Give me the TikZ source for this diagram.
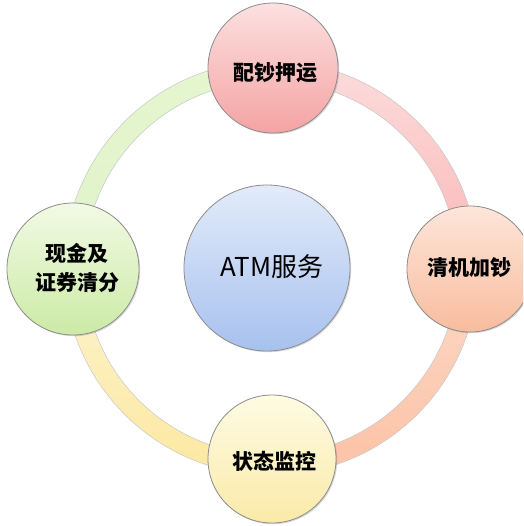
\documentclass[tikz,border=0pt]{standalone}
\usepackage{fontspec}
\setmainfont{Noto Sans CJK SC}
\usetikzlibrary{shadows,calc}
\definecolor{pkA}{HTML}{FCE0E0}\definecolor{pkB}{HTML}{F5A3A3}
\definecolor{orA}{HTML}{FDE6DA}\definecolor{orB}{HTML}{F8BC9E}
\definecolor{ywA}{HTML}{FEFBE4}\definecolor{ywB}{HTML}{FAEAA8}
\definecolor{gnA}{HTML}{F1FAE4}\definecolor{gnB}{HTML}{CCEAA6}
\definecolor{blA}{HTML}{E3EBFA}\definecolor{blB}{HTML}{A7C1EE}
\definecolor{rpA}{HTML}{FCDCDC}\definecolor{rpB}{HTML}{FBB6B6}
\definecolor{roA}{HTML}{FDD9C6}\definecolor{roB}{HTML}{FCC2A6}
\definecolor{ryA}{HTML}{FDF4D0}\definecolor{ryB}{HTML}{FCE8A0}
\definecolor{rgA}{HTML}{E6F6D0}\definecolor{rgB}{HTML}{E0F3C8}
\tikzset{
  ball/.style={circle, draw=black!45, line width=0.8pt, inner sep=0pt, align=center,
    drop shadow={shadow xshift=1.2pt, shadow yshift=-1.2pt, opacity=0.25, fill=black!60}},
  lbl/.style={font=\fontsize{21}{29}\selectfont\bfseries},
  ringseg/.style={draw=black!22, line width=0.5pt}
}
\begin{document}
\begin{tikzpicture}[x=1pt,y=-1pt]
\useasboundingbox (0,0) rectangle (523,526);
\clip (0,0) rectangle (523,526);
\fill[white] (0,0) rectangle (523,526);
\coordinate (rc) at (271,268);
% ring segments (annular sectors)
\def\Ro{207}\def\Ri{187}
\foreach \aa/\bb/\ca/\cb in {-90/0/rpA/rpB, 0/90/roA/roB, 90/180/ryA/ryB, 180/270/rgA/rgB}{
  \path[ringseg, top color=\ca, bottom color=\cb]
    ($(rc)+(\aa:\Ro)$) arc[start angle=\aa, end angle=\bb, radius=\Ro]
    -- ($(rc)+(\bb:\Ri)$) arc[start angle=\bb, end angle=\aa, radius=\Ri] -- cycle;
}
% nodes
\node[ball, minimum size=166pt, top color=blA, bottom color=blB] (c) at (267,268) {};
\node[font=\fontsize{26}{30}\selectfont] (ct) at (272,267) {ATM服务};
\node[ball, minimum size=130pt, top color=pkA, bottom color=pkB] (t) at (273,68) {};
\node[lbl] (tt) at (275,73) {配钞押运};
\node[ball, minimum size=126pt, top color=orA, bottom color=orB] (r) at (470,269) {};
\node[lbl] (rt) at (469,268) {清机加钞};
\node[ball, minimum size=128pt, top color=ywA, bottom color=ywB] (b) at (272,459) {};
\node[lbl] (bt) at (274,461) {状态监控};
\node[ball, minimum size=132pt, top color=gnA, bottom color=gnB] (l) at (73,269) {};
\node[lbl, align=center] (lt) at (77,268) {现金及\\证券清分};
\end{tikzpicture}
\end{document}
